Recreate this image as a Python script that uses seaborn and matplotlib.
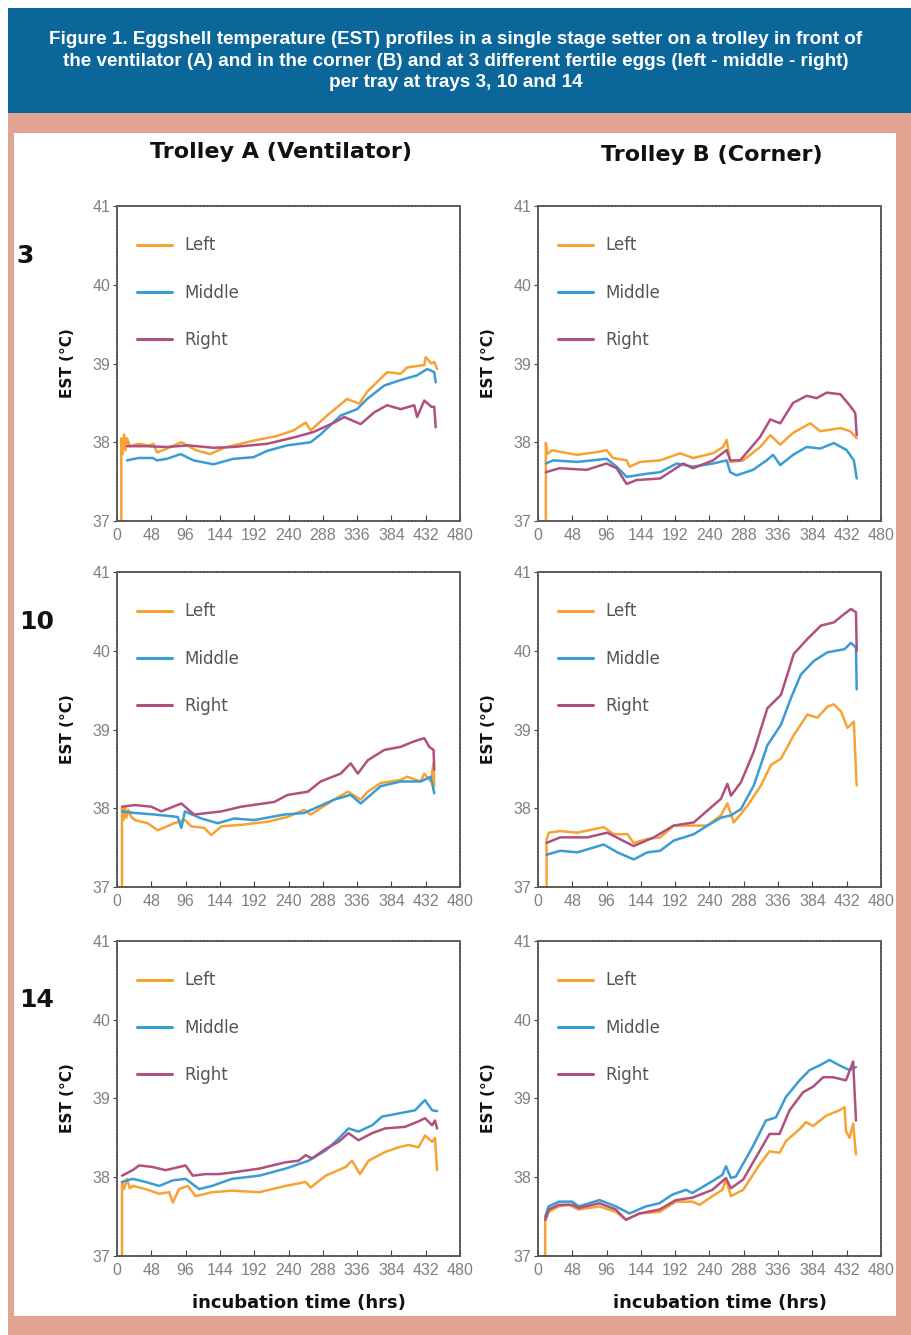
"""
Eggshell temperature (EST) profiles - trolley A (ventilator) vs trolley B (corner)
trays 3, 10 and 14, three eggs per tray (left / middle / right)
"""

import pandas as pd
import matplotlib
matplotlib.use('Agg')
import matplotlib.pyplot as plt
from matplotlib import font_manager
from matplotlib.patches import Rectangle
import seaborn as sns


TITLE = ("Figure 1. Eggshell temperature (EST) profiles in a single stage setter on a trolley in front of\n"
         "the ventilator (A) and in the corner (B) and at 3 different fertile eggs (left - middle - right)\n"
         "per tray at trays 3, 10 and 14")
TROLLEYS = ['Trolley A (Ventilator)', 'Trolley B (Corner)']
TRAYS = ['3', '10', '14']
EGGS = ['Left', 'Middle', 'Right']
X_TICKS = [0, 48, 96, 144, 192, 240, 288, 336, 384, 432, 480]
Y_TICKS = [37, 38, 39, 40, 41]

# --- tray 3, trolley A ---
A3_LEFT_H = [6, 6, 8, 10, 12, 14, 18, 30, 45, 51, 56, 70, 90, 100, 110, 130, 150, 163, 191, 224,
             247, 264, 271, 294, 322, 339, 350, 378, 397, 406, 430, 432, 440, 444, 448]
A3_LEFT_T = [37.0, 38.05, 37.85, 38.1, 37.9, 38.05, 37.95, 37.98, 37.96, 37.98, 37.87, 37.92, 38.0, 37.95,
             37.9, 37.85, 37.93, 37.96, 38.02, 38.08, 38.15, 38.25, 38.15, 38.34, 38.55, 38.49, 38.64,
             38.89, 38.87, 38.95, 38.98, 39.08, 39.0, 39.02, 38.93]
A3_MID_H = [14, 30, 50, 56, 70, 89, 107, 135, 163, 191, 210, 238, 271, 285, 313, 336, 350, 374, 397,
            420, 434, 444, 446]
A3_MID_T = [37.77, 37.8, 37.8, 37.77, 37.79, 37.85, 37.77, 37.72, 37.79, 37.81, 37.89, 37.96, 38.0,
            38.1, 38.34, 38.42, 38.55, 38.72, 38.79, 38.85, 38.93, 38.89, 38.76]
A3_RIGHT_H = [14, 40, 70, 100, 135, 163, 210, 247, 275, 304, 318, 341, 360, 378, 397, 416, 420, 430,
              440, 444, 446]
A3_RIGHT_T = [37.95, 37.95, 37.94, 37.96, 37.93, 37.94, 37.98, 38.06, 38.13, 38.25, 38.32, 38.23, 38.38,
              38.47, 38.42, 38.47, 38.32, 38.53, 38.45, 38.45, 38.19]

# --- tray 3, trolley B ---
B3_LEFT_H = [11, 11, 13, 20, 30, 55, 86, 96, 105, 124, 128, 143, 171, 199, 217, 245, 259, 264, 269,
             287, 311, 325, 339, 357, 381, 395, 423, 437, 446]
B3_LEFT_T = [37.0, 37.99, 37.85, 37.9, 37.88, 37.84, 37.88, 37.9, 37.8, 37.77, 37.69, 37.75, 37.77,
             37.86, 37.8, 37.86, 37.94, 38.03, 37.75, 37.77, 37.94, 38.09, 37.97, 38.12, 38.24, 38.14,
             38.18, 38.14, 38.05]
B3_MID_H = [11, 21, 55, 96, 110, 124, 152, 171, 194, 217, 245, 264, 269, 278, 301, 320, 329, 339, 357,
            376, 395, 414, 432, 442, 446]
B3_MID_T = [37.73, 37.77, 37.75, 37.79, 37.69, 37.56, 37.6, 37.62, 37.73, 37.69, 37.73, 37.77, 37.62,
            37.58, 37.65, 37.77, 37.84, 37.71, 37.84, 37.94, 37.92, 37.99, 37.9, 37.77, 37.54]
B3_RIGHT_H = [11, 30, 68, 96, 110, 124, 138, 171, 203, 217, 245, 264, 269, 283, 311, 325, 339, 357,
              376, 390, 404, 423, 437, 444, 446]
B3_RIGHT_T = [37.62, 37.67, 37.65, 37.73, 37.67, 37.47, 37.52, 37.54, 37.73, 37.67, 37.77, 37.9, 37.77,
              37.77, 38.07, 38.29, 38.24, 38.5, 38.59, 38.56, 38.63, 38.61, 38.46, 38.37, 38.09]

# --- tray 10, trolley A ---
A10_LEFT_H = [7, 7, 9, 11, 13, 16, 20, 25, 43, 57, 80, 95, 104, 122, 132, 146, 174, 211, 239, 262,
              271, 304, 323, 341, 351, 369, 397, 406, 425, 430, 439, 443, 444]
A10_LEFT_T = [37.0, 38.0, 37.85, 38.02, 37.88, 37.98, 37.89, 37.85, 37.81, 37.72, 37.81, 37.85, 37.77,
              37.75, 37.66, 37.77, 37.79, 37.83, 37.89, 37.98, 37.92, 38.11, 38.21, 38.11, 38.21, 38.32,
              38.36, 38.4, 38.34, 38.44, 38.34, 38.57, 38.28]
A10_MID_H = [7, 25, 53, 85, 90, 95, 118, 141, 164, 192, 234, 262, 304, 327, 341, 369, 397, 425, 439, 444]
A10_MID_T = [37.96, 37.94, 37.92, 37.89, 37.75, 37.96, 37.87, 37.81, 37.87, 37.85, 37.92, 37.94, 38.11,
             38.17, 38.06, 38.28, 38.34, 38.34, 38.4, 38.19]
A10_RIGHT_H = [7, 25, 48, 62, 90, 108, 146, 174, 220, 239, 267, 285, 313, 327, 337, 351, 374, 397, 416,
               430, 437, 443, 444]
A10_RIGHT_T = [38.02, 38.04, 38.02, 37.96, 38.06, 37.92, 37.96, 38.02, 38.08, 38.17, 38.21, 38.34, 38.44,
               38.57, 38.44, 38.61, 38.74, 38.78, 38.85, 38.89, 38.78, 38.74, 38.49]

# --- tray 10, trolley B ---
B10_LEFT_H = [12, 12, 15, 31, 55, 92, 106, 125, 134, 153, 171, 190, 218, 237, 256, 265, 274, 293, 312,
              326, 340, 358, 377, 391, 405, 414, 424, 433, 442, 445, 446]
B10_LEFT_T = [37.0, 37.6, 37.69, 37.71, 37.69, 37.76, 37.67, 37.67, 37.56, 37.61, 37.63, 37.78, 37.78,
              37.78, 37.91, 38.06, 37.82, 38.03, 38.29, 38.55, 38.63, 38.93, 39.19, 39.15, 39.29, 39.32,
              39.23, 39.02, 39.1, 38.46, 38.29]
B10_MID_H = [12, 31, 55, 92, 111, 134, 153, 171, 190, 218, 237, 256, 270, 284, 302, 321, 340, 354, 368,
             386, 405, 429, 438, 445, 446]
B10_MID_T = [37.41, 37.46, 37.44, 37.54, 37.44, 37.35, 37.44, 37.46, 37.59, 37.67, 37.78, 37.88, 37.91,
             37.99, 38.29, 38.8, 39.06, 39.4, 39.7, 39.87, 39.98, 40.02, 40.1, 40.04, 39.51]
B10_RIGHT_H = [12, 31, 69, 97, 125, 134, 162, 190, 218, 237, 256, 265, 270, 284, 302, 321, 340, 358,
               377, 396, 414, 429, 438, 445, 446]
B10_RIGHT_T = [37.56, 37.63, 37.63, 37.69, 37.56, 37.52, 37.63, 37.78, 37.82, 37.97, 38.12, 38.31, 38.16,
               38.33, 38.72, 39.27, 39.44, 39.96, 40.15, 40.32, 40.36, 40.47, 40.53, 40.49, 40.0]

# --- tray 14, trolley A ---
A14_LEFT_H = [7, 7, 10, 14, 18, 22, 40, 59, 73, 78, 87, 99, 110, 133, 161, 199, 236, 264, 271, 292,
              320, 329, 340, 352, 375, 394, 408, 422, 431, 441, 445, 448]
A14_LEFT_T = [37.0, 37.94, 37.85, 37.98, 37.86, 37.89, 37.85, 37.79, 37.81, 37.68, 37.85, 37.89, 37.76,
              37.81, 37.83, 37.81, 37.89, 37.94, 37.87, 38.02, 38.13, 38.21, 38.04, 38.21, 38.32, 38.38,
              38.41, 38.38, 38.53, 38.45, 38.5, 38.09]
A14_MID_H = [7, 22, 40, 59, 78, 96, 115, 133, 161, 199, 236, 268, 292, 310, 324, 338, 357, 371, 394,
             417, 431, 441, 448]
A14_MID_T = [37.94, 37.98, 37.94, 37.89, 37.96, 37.98, 37.85, 37.89, 37.98, 38.02, 38.11, 38.21, 38.34,
             38.49, 38.62, 38.58, 38.66, 38.77, 38.81, 38.85, 38.98, 38.85, 38.84]
A14_RIGHT_H = [7, 22, 31, 50, 68, 96, 106, 124, 143, 161, 199, 236, 254, 264, 273, 292, 310, 324, 338,
               357, 375, 403, 422, 431, 441, 445, 448]
A14_RIGHT_T = [38.02, 38.09, 38.15, 38.13, 38.09, 38.15, 38.02, 38.04, 38.04, 38.06, 38.11, 38.19, 38.21,
               38.28, 38.24, 38.36, 38.45, 38.56, 38.47, 38.56, 38.62, 38.64, 38.71, 38.75, 38.66, 38.72,
               38.62]

# --- tray 14, trolley B ---
B14_LEFT_H = [10, 10, 15, 29, 43, 57, 86, 109, 123, 142, 170, 193, 216, 226, 244, 258, 263, 270, 287,
              310, 324, 338, 347, 366, 375, 385, 403, 422, 429, 431, 436, 441, 445]
B14_LEFT_T = [37.0, 37.44, 37.56, 37.63, 37.65, 37.59, 37.63, 37.56, 37.46, 37.54, 37.56, 37.69, 37.69,
              37.65, 37.76, 37.84, 37.97, 37.76, 37.84, 38.16, 38.33, 38.31, 38.46, 38.61, 38.7, 38.65,
              38.78, 38.85, 38.89, 38.59, 38.5, 38.68, 38.29]
B14_MID_H = [10, 15, 29, 48, 57, 86, 109, 128, 151, 170, 188, 207, 216, 244, 258, 263, 270, 277, 300,
             319, 333, 347, 366, 380, 394, 408, 422, 436, 445]
B14_MID_T = [37.5, 37.63, 37.69, 37.69, 37.63, 37.71, 37.63, 37.54, 37.63, 37.67, 37.78, 37.84, 37.8,
             37.95, 38.03, 38.14, 37.99, 38.01, 38.38, 38.72, 38.76, 39.02, 39.23, 39.36, 39.42, 39.49,
             39.42, 39.36, 39.4]
B14_RIGHT_H = [10, 15, 29, 48, 57, 86, 109, 123, 142, 170, 193, 216, 244, 263, 270, 287, 310, 324, 338,
               352, 371, 385, 399, 413, 431, 441, 445]
B14_RIGHT_T = [37.46, 37.59, 37.65, 37.65, 37.61, 37.67, 37.59, 37.46, 37.54, 37.59, 37.71, 37.74, 37.84,
               37.99, 37.86, 37.97, 38.33, 38.55, 38.55, 38.85, 39.08, 39.15, 39.27, 39.27, 39.23, 39.47,
               38.72]

SERIES = {
    ('A', '3'): [(A3_LEFT_H, A3_LEFT_T), (A3_MID_H, A3_MID_T), (A3_RIGHT_H, A3_RIGHT_T)],
    ('B', '3'): [(B3_LEFT_H, B3_LEFT_T), (B3_MID_H, B3_MID_T), (B3_RIGHT_H, B3_RIGHT_T)],
    ('A', '10'): [(A10_LEFT_H, A10_LEFT_T), (A10_MID_H, A10_MID_T), (A10_RIGHT_H, A10_RIGHT_T)],
    ('B', '10'): [(B10_LEFT_H, B10_LEFT_T), (B10_MID_H, B10_MID_T), (B10_RIGHT_H, B10_RIGHT_T)],
    ('A', '14'): [(A14_LEFT_H, A14_LEFT_T), (A14_MID_H, A14_MID_T), (A14_RIGHT_H, A14_RIGHT_T)],
    ('B', '14'): [(B14_LEFT_H, B14_LEFT_T), (B14_MID_H, B14_MID_T), (B14_RIGHT_H, B14_RIGHT_T)],
}

PALETTE = {'Left': '#F7A233', 'Middle': '#3A9CD4', 'Right': '#B0507E'}
BLUE_BAND = '#0B6699'
SALMON = '#E3A593'

W, H = 912, 1335


def has_font(name):
    try:
        font_manager.findfont(name, fallback_to_default=False)
        return True
    except ValueError:
        return False


def build_frame():
    rows = []
    for (trolley, tray), series in SERIES.items():
        for egg, (hrs, temps) in zip(EGGS, series):
            for h, t in zip(hrs, temps):
                rows.append({'trolley': trolley, 'tray': tray, 'egg': egg, 'hours': h, 'est': t})
    return pd.DataFrame(rows)


def fig_rect(left, top, right, bottom):
    """pixel box -> figure fraction rect"""
    return [left / W, 1 - bottom / H, (right - left) / W, (bottom - top) / H]


def main():
    sns.set_style('ticks')
    narrow = 'Liberation Sans Narrow' if has_font('Liberation Sans Narrow') else 'Liberation Sans'
    plt.rcParams['font.family'] = ['DejaVu Sans']

    df = build_frame()

    fig = plt.figure(figsize=(W / 100, H / 100), dpi=100, facecolor='white')

    # background bands
    fig.add_artist(Rectangle((8 / W, 0), 904 / W, (H - 113) / H, transform=fig.transFigure,
                             facecolor=SALMON, edgecolor='none', zorder=-3))
    fig.add_artist(Rectangle((8 / W, (H - 113) / H), 904 / W, 105 / H, transform=fig.transFigure,
                             facecolor=BLUE_BAND, edgecolor='none', zorder=-3))
    fig.add_artist(Rectangle((14 / W, (H - 1316) / H), 882 / W, 1183 / H, transform=fig.transFigure,
                             facecolor='white', edgecolor='none', zorder=-2))

    title_size = 14 if narrow == 'Liberation Sans Narrow' else 13.6
    fig.text(0.5, 1 - 61 / H, TITLE, ha='center', va='center', color='white',
             fontsize=title_size, family=[narrow, 'DejaVu Sans'], fontweight='bold', linespacing=1.32)

    col_left = {'A': 117, 'B': 538}
    row_top = {'3': 206, '10': 572, '14': 941}

    for trolley in ['A', 'B']:
        for tray in TRAYS:
            left, top = col_left[trolley], row_top[tray]
            ax = fig.add_axes(fig_rect(left, top, left + 343, top + 315))
            sub = df[(df['trolley'] == trolley) & (df['tray'] == tray)]
            sns.lineplot(data=sub, x='hours', y='est', hue='egg', hue_order=EGGS, palette=PALETTE,
                         estimator=None, sort=False, linewidth=1.8, ax=ax)

            ax.set_xlim(0, 480)
            ax.set_ylim(37, 41)
            ax.set_xticks(X_TICKS)
            ax.set_yticks(Y_TICKS)
            ax.tick_params(axis='x', direction='in', length=4, pad=5, colors='#444', labelcolor='#808080',
                           labelsize=11.5)
            ax.tick_params(axis='y', direction='out', length=3, pad=2, colors='#444', labelcolor='#808080',
                           labelsize=11.5)
            for lab in ax.get_xticklabels() + ax.get_yticklabels():
                lab.set_family([narrow, 'DejaVu Sans'])

            for side in ['top', 'right', 'bottom', 'left']:
                ax.spines[side].set_visible(True)
                ax.spines[side].set_color('#555')
                ax.spines[side].set_linewidth(1.3)
                ax.spines[side].set_linestyle((0, (1, 0.8)))

            ax.set_ylabel('EST (°C)', fontsize=11, fontweight='bold', color='#111')
            ax.yaxis.set_label_coords(-0.122, 0.5)
            if tray == '14':
                ax.set_xlabel('incubation time (hrs)', fontsize=13, fontweight='bold', color='#111')
                ax.xaxis.set_label_coords(0.53, -0.12)
            else:
                ax.set_xlabel('')

            sns.move_legend(ax, 'upper left', bbox_to_anchor=(0.035, 0.93), title=None, frameon=False,
                            fontsize=12, handlelength=2.1, handletextpad=0.7, labelspacing=1.75,
                            borderpad=0, labelcolor='#555')
            for line in ax.get_legend().get_lines():
                line.set_linewidth(2.2)

    # column headers and tray numbers
    fig.text(281 / W, 1 - 152 / H, TROLLEYS[0], ha='center', va='center', fontsize=16,
             fontweight='bold', color='#111')
    fig.text(712 / W, 1 - 155 / H, TROLLEYS[1], ha='center', va='center', fontsize=16,
             fontweight='bold', color='#111')
    for tray, (x, y) in zip(TRAYS, [(25, 256), (37, 622), (37, 1000)]):
        fig.text(x / W, 1 - y / H, tray, ha='center', va='center', fontsize=18,
                 fontweight='bold', color='#111')

    fig.savefig('out.png', dpi=100, facecolor=fig.get_facecolor())
    plt.close(fig)


if __name__ == "__main__":
    main()
